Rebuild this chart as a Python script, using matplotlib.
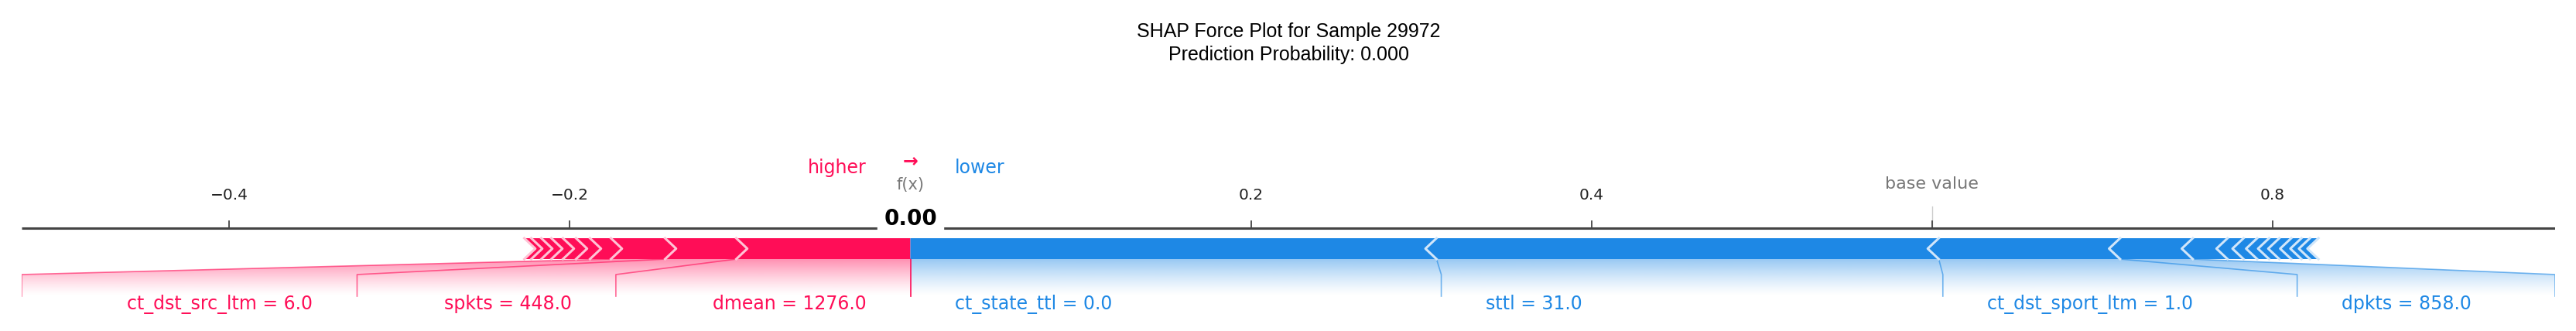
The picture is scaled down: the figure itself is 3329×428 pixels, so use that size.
import numpy as np
import matplotlib
matplotlib.use("Agg")
import matplotlib.pyplot as plt
from matplotlib.patches import Polygon

# ---------------- data ----------------
title_lines = ["SHAP Force Plot for Sample 29972", "Prediction Probability: 0.000"]
fx = 0.0
base_value = 0.600
# positive (red, push higher) contributions, ordered outward from f(x)
red_names = ["dmean = 1276.0", "spkts = 448.0", "ct_dst_src_ltm = 6.0"]
red_vals = [0.1023, 0.0418, 0.0318, 0.0123, 0.0082, 0.0077, 0.0068, 0.0059, 0.0059, 0.0041]
# negative (blue, push lower) contributions, ordered outward from f(x)
blue_names = ["ct_state_ttl = 0.0", "sttl = 31.0", "ct_dst_sport_ltm = 1.0", "dpkts = 858.0"]
blue_vals = [0.309, 0.295, 0.1065, 0.0427, 0.0204, 0.0094, 0.0080, 0.0070, 0.0060, 0.0070, 0.0060, 0.0050, 0.0050]
tick_vals = [-0.4, -0.2, 0.0, 0.2, 0.4, 0.6, 0.8]
tick_labels = ["\u22120.4", "\u22120.2", "", "0.2", "0.4", "", "0.8"]
# label box edges (layout, from text widths)
red_box_edges = [0.0, -0.173, -0.325, -0.522]
blue_box_edges = [0.0, 0.3118, 0.6064, 0.8145, 0.966]

RED = "#ff0d57"
BLUE = "#1e88e5"
RED_L = "#ffc3d5"
BLUE_L = "#d1e6fa"

W, H = 3329, 428
fig = plt.figure(figsize=(W / 100, H / 100), dpi=100)
xmin, xmax = -0.522, 0.966
ax = fig.add_axes([28 / W, 0, 3274 / W, 1])
ax.set_xlim(xmin, xmax)
ax.set_ylim(H, 0)
ax.axis("off")

# title
fig.text(1665 / W, 1 - 41 / H, title_lines[0], ha="center", va="center",
         fontsize=18, family="Liberation Sans")
fig.text(1665 / W, 1 - 71 / H, title_lines[1], ha="center", va="center",
         fontsize=18, family="Liberation Sans")

# axis
y_axis = 295
ax.plot([xmin, xmax], [y_axis, y_axis], color="#444444", lw=2.2, solid_capstyle="butt", zorder=2)
for t, lab in zip(tick_vals, tick_labels):
    ax.plot([t, t], [y_axis - 9, y_axis], color="#444444", lw=1.3, zorder=2)
    if lab:
        ax.text(t, 252, lab, ha="center", va="center", fontsize=14.5, color="#222222")

bar_top, bar_bot = 308, 335
ymid = (bar_top + bar_bot) / 2
tip = 0.0065
conn_y, line_bot = 355, 383


def gradient(ax, poly_xy, color):
    rgb = matplotlib.colors.to_rgb(color)
    n = 100
    arr = np.zeros((n, 2, 4))
    arr[..., :3] = rgb
    a = np.linspace(0.55, 0.0, n) ** 1.3
    arr[..., 3] = a[:, None]
    ys = [p[1] for p in poly_xy]
    im = ax.imshow(arr, extent=(xmin, xmax, max(ys), min(ys)), aspect="auto",
                   interpolation="bilinear", zorder=1)
    patch = Polygon(poly_xy, closed=True, transform=ax.transData, facecolor="none", edgecolor="none")
    ax.add_patch(patch)
    im.set_clip_path(patch)


# red segments (extend leftwards from fx)
red_bounds = fx - np.concatenate([[0], np.cumsum(red_vals)])
blue_bounds = fx + np.concatenate([[0], np.cumsum(blue_vals)])

for i in range(len(red_vals)):
    r, l = red_bounds[i], red_bounds[i + 1]
    rt = 0 if i == 0 else tip
    pts = [(l, bar_top), (r, bar_top), (r + rt, ymid), (r, bar_bot), (l, bar_bot), (l + tip, ymid)]
    ax.add_patch(Polygon(pts, closed=True, facecolor=RED, edgecolor="none", zorder=3))
    if i > 0:
        ax.plot([r, r + tip, r], [bar_top, ymid, bar_bot], color=RED_L, lw=2.2, zorder=4)
l = red_bounds[-1]
ax.plot([l, l + tip, l], [bar_top, ymid, bar_bot], color=RED_L, lw=2.2, zorder=4)

for i in range(len(blue_vals)):
    l, r = blue_bounds[i], blue_bounds[i + 1]
    lt = 0 if i == 0 else tip
    pts = [(l, bar_top), (r, bar_top), (r - tip, ymid), (r, bar_bot), (l, bar_bot), (l - lt, ymid)]
    ax.add_patch(Polygon(pts, closed=True, facecolor=BLUE, edgecolor="none", zorder=3))
    if i > 0:
        ax.plot([l, l - tip, l], [bar_top, ymid, bar_bot], color=BLUE_L, lw=2.2, zorder=4)
r = blue_bounds[-1]
ax.plot([r, r - tip, r], [bar_top, ymid, bar_bot], color=BLUE_L, lw=2.2, zorder=4)

# red labels and connectors
nr = len(red_names)
gradient(ax, [(fx, bar_bot), (fx, line_bot), (red_box_edges[-1], line_bot),
              (red_box_edges[-1], conn_y), (red_bounds[nr], bar_bot)], RED)
ax.plot([fx, fx], [bar_bot, line_bot], color=RED, lw=1.2, alpha=0.7, zorder=2)
for i, name in enumerate(red_names):
    seg_end = red_bounds[i + 1]
    box_l = red_box_edges[i + 1]
    ax.plot([seg_end, box_l, box_l], [bar_bot, conn_y, line_bot], color=RED, lw=1.2, alpha=0.6, zorder=2)
    ax.text(red_box_edges[i] - 0.026, 393, name, ha="right", va="center", fontsize=17, color=RED)

nb = len(blue_names)
gradient(ax, [(fx, bar_bot), (fx, line_bot), (blue_box_edges[-1], line_bot),
              (blue_box_edges[-1], conn_y), (blue_bounds[nb], bar_bot)], BLUE)
ax.plot([fx, fx], [bar_bot, line_bot], color=RED, lw=1.2, alpha=0.7, zorder=2)
for i, name in enumerate(blue_names):
    seg_end = blue_bounds[i + 1]
    box_r = blue_box_edges[i + 1]
    ax.plot([seg_end, box_r, box_r], [bar_bot, conn_y, line_bot], color=BLUE, lw=1.2, alpha=0.6, zorder=2)
    ax.text(blue_box_edges[i] + 0.026, 393, name, ha="left", va="center", fontsize=17, color=BLUE)

# f(x) and base value annotations
ax.text(fx, 283, "%.2f" % fx, ha="center", va="center", fontsize=20, fontweight="bold",
        color="black", zorder=6,
        bbox=dict(facecolor="white", edgecolor="white", pad=6))
ax.text(fx, 239, "f(x)", ha="center", va="center", fontsize=15, color="#777777", zorder=6)
ax.text(fx - 0.026, 217, "higher", ha="right", va="center", fontsize=17, color=RED)
ax.text(fx, 208, "\u2192", ha="center", va="center", fontsize=17, color=RED, fontweight="bold")
ax.text(fx + 0.026, 217, "lower", ha="left", va="center", fontsize=17, color=BLUE)
ax.text(base_value, 238, "base value", ha="center", va="center", fontsize=16, color="#777777")
ax.plot([base_value, base_value], [267, y_axis], color="#cccccc", lw=1, zorder=1)

fig.savefig("out.png", dpi=100)
